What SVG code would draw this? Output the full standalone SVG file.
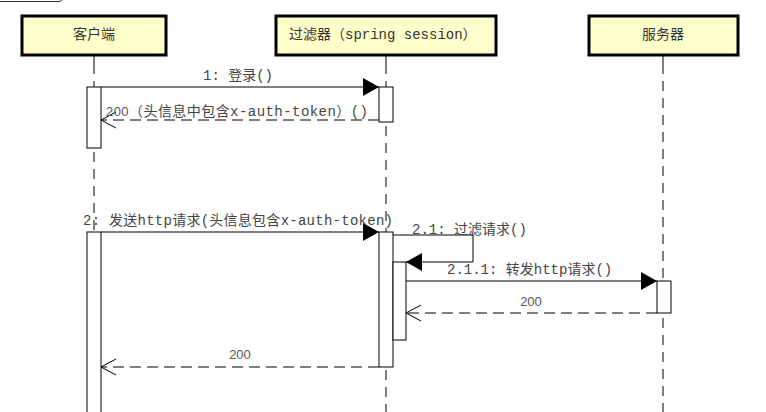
<svg xmlns="http://www.w3.org/2000/svg" width="766" height="412" viewBox="0 0 766 412">
  <style>
    .head rect { fill: #ffffcc; stroke: #000; stroke-width: 3; }
    .head text { font-family: "Liberation Mono", "Noto Sans CJK SC", monospace; font-size: 14px; fill: #333; }
    .life { stroke: #000; stroke-width: 1; stroke-dasharray: 10 7; fill: none; }
    .act { fill: #fff; stroke: #000; stroke-width: 1; }
    .msg { stroke: #000; stroke-width: 1; fill: none; }
    .ret { stroke: #000; stroke-width: 1; fill: none; stroke-dasharray: 11 6; }
    .lbl { font-family: "Liberation Mono", "Noto Sans CJK SC", monospace; font-size: 14px; fill: #444; }
    .num { font-family: "Liberation Sans", Arial, sans-serif; font-size: 13px; fill: #555; }
  </style>
  <defs>
    <marker id="solidHead" viewBox="0 0 16 18" refX="16" refY="9" markerWidth="16" markerHeight="18" markerUnits="userSpaceOnUse" orient="auto">
      <path d="M0,0 L16,9 L0,18 Z" fill="#000"/>
    </marker>
    <marker id="openHead" viewBox="0 0 16 18" refX="15" refY="9" markerWidth="16" markerHeight="18" markerUnits="userSpaceOnUse" orient="auto">
      <path d="M0,1 L15,9 L0,17" fill="none" stroke="#000" stroke-width="1"/>
    </marker>
  </defs>

  <!-- frame corner -->
  <path d="M0,1.5 H60 L62,0" fill="none" stroke="#333" stroke-width="1"/>

  <!-- lifelines -->
  <g id="lifelines">
    <line x1="94" y1="55" x2="94" y2="64" stroke="#000"/>
    <line class="life" x1="94" y1="64" x2="94" y2="87"/>
    <line class="life" x1="94" y1="152" x2="94" y2="232"/>
    <line x1="386" y1="55" x2="386" y2="64" stroke="#000"/>
    <line class="life" x1="386" y1="64" x2="386" y2="87"/>
    <line class="life" x1="386" y1="126" x2="386" y2="232"/>
    <line class="life" x1="386" y1="370" x2="386" y2="412"/>
    <line x1="663" y1="55" x2="663" y2="64" stroke="#000"/>
    <line class="life" x1="663" y1="64" x2="663" y2="281"/>
    <line class="life" x1="663" y1="318" x2="663" y2="412"/>
  </g>

  <!-- participants -->
  <g id="client" class="head">
    <rect x="22" y="16" width="144" height="39"/>
    <text x="94" y="39" text-anchor="middle">客户端</text>
  </g>
  <g id="filter" class="head">
    <rect x="276" y="16" width="220" height="39"/>
    <text x="289" y="39">过滤器（spring session）</text>
  </g>
  <g id="server" class="head">
    <rect x="589" y="16" width="149" height="39"/>
    <text x="663" y="39" text-anchor="middle">服务器</text>
  </g>

  <!-- activation bars -->
  <g id="activations">
    <rect class="act" x="87" y="87" width="14" height="61"/>
    <rect class="act" x="379" y="87" width="14" height="35"/>
    <rect class="act" x="87" y="232" width="14" height="190"/>
    <rect class="act" x="379" y="232" width="14" height="135"/>
    <rect class="act" x="393" y="262" width="13" height="78"/>
    <rect class="act" x="657" y="281" width="14" height="32"/>
  </g>

  <!-- messages -->
  <g id="connectors">
    <line class="msg" x1="101" y1="87" x2="379" y2="87" marker-end="url(#solidHead)"/>
    <line class="ret" x1="379" y1="120" x2="101" y2="120" marker-end="url(#openHead)"/>
    <line class="msg" x1="101" y1="232" x2="379" y2="232" marker-end="url(#solidHead)"/>
    <path class="msg" d="M393,235 H473 V262 H406" marker-end="url(#solidHead)"/>
    <line class="msg" x1="406" y1="281" x2="657" y2="281" marker-end="url(#solidHead)"/>
    <line class="ret" x1="657" y1="313" x2="406" y2="313" marker-end="url(#openHead)"/>
    <line class="ret" x1="379" y1="367" x2="101" y2="367" marker-end="url(#openHead)"/>
  </g>

  <!-- message labels -->
  <g id="labels">
    <text class="lbl" x="203" y="80">1: 登录()</text>
    <text class="lbl" x="106" y="116" textLength="262" lengthAdjust="spacing"><tspan class="num">200</tspan>（头信息中包含x-auth-token）()</text>
    <text class="lbl" x="83" y="225" textLength="310" lengthAdjust="spacing">2: 发送http请求(头信息包含x-auth-token)</text>
    <text class="lbl" x="412" y="234">2.1: 过滤请求()</text>
    <text class="lbl" x="447" y="274">2.1.1: 转发http请求()</text>
    <text class="num" x="531" y="306" text-anchor="middle">200</text>
    <text class="num" x="240" y="359" text-anchor="middle">200</text>
  </g>
</svg>
